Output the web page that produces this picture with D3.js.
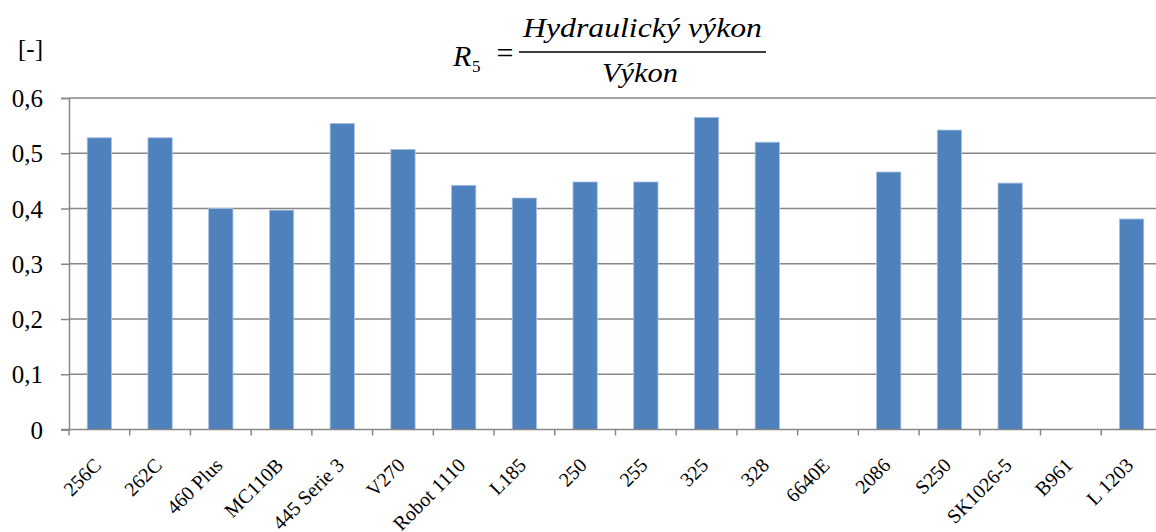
<!DOCTYPE html>
<html>
<head>
<meta charset="utf-8">
<script src="https://cdn.jsdelivr.net/npm/d3@7"></script>
<style>
  body { margin: 0; background: #fff; }
  #my_dataviz { width: 1156px; height: 532px; }
</style>
</head>
<body>
<div id="my_dataviz"></div>
<script>
const categories = ["256C", "262C", "460 Plus", "MC110B", "445 Serie 3", "V270", "Robot 1110", "L185",
    "250", "255", "325", "328", "6640E", "2086", "S250", "SK1026-5", "B961", "L 1203"];
const values = [0.528, 0.528, 0.400, 0.397, 0.554, 0.507, 0.442, 0.419,
    0.448, 0.448, 0.565, 0.520, 0, 0.466, 0.542, 0.446, 0, 0.381];
const yTicks = [0, 0.1, 0.2, 0.3, 0.4, 0.5, 0.6];
const yTickLabels = ["0", "0,1", "0,2", "0,3", "0,4", "0,5", "0,6"];

const serif = '"Liberation Serif", "Times New Roman", serif';

function renderGraph() {
    const width = 1156, height = 532;
    const left = 69, top = 98, bottom = 429.5;
    const step = 60.72;

    const svg = d3.select("#my_dataviz")
        .append("svg")
        .attr("width", width)
        .attr("height", height)
        .style("font-family", serif);

    const x = d3.scaleBand()
        .domain(categories)
        .range([left, left + step * categories.length])
        .padding(0);

    const y = d3.scaleLinear()
        .domain([0, 0.6])
        .range([bottom, top]);

    // gridlines
    svg.append("g")
        .selectAll("line")
        .data(yTicks.filter(d => d > 0))
        .enter()
        .append("line")
        .attr("x1", left)
        .attr("x2", width)
        .attr("y1", d => y(d))
        .attr("y2", d => y(d))
        .attr("stroke", "#878787")
        .attr("stroke-width", 1.5);

    // y axis
    const yAxis = svg.append("g")
        .attr("transform", `translate(${left},0)`)
        .call(d3.axisLeft(y)
            .tickValues(yTicks)
            .tickFormat((d, i) => yTickLabels[i])
            .tickSize(8)
            .tickPadding(18));
    yAxis.attr("font-family", null).attr("font-size", null);
    yAxis.select(".domain").attr("stroke", "#878787").attr("stroke-width", 1.5);
    yAxis.selectAll(".tick line").attr("stroke", "#878787").attr("stroke-width", 1.5);
    yAxis.selectAll(".tick text")
        .style("font-family", serif)
        .style("font-size", "25px")
        .attr("fill", "#000")
        .attr("dy", "0.34em");

    // bars
    const barW = x.bandwidth() * 0.4;
    svg.selectAll("mybar")
        .data(values.map((v, i) => ({ cat: categories[i], v: v })).filter(d => d.v > 0))
        .enter()
        .append("rect")
        .attr("x", d => x(d.cat) + (x.bandwidth() - barW) / 2)
        .attr("y", d => y(d.v))
        .attr("width", barW)
        .attr("height", d => y(0) - y(d.v))
        .attr("fill", "#4f81bd")
        .attr("stroke", "#a9c2e0")
        .attr("stroke-width", 0.8);

    // x axis
    const xAxis = svg.append("g")
        .attr("transform", `translate(0,${bottom})`);
    xAxis.append("line")
        .attr("x1", left - 8)
        .attr("x2", width)
        .attr("stroke", "#878787")
        .attr("stroke-width", 1.5);
    xAxis.selectAll("tickmark")
        .data(categories)
        .enter()
        .append("line")
        .attr("x1", d => x(d))
        .attr("x2", d => x(d))
        .attr("y1", 0)
        .attr("y2", 6)
        .attr("stroke", "#878787")
        .attr("stroke-width", 1.5);

    svg.append("g")
        .selectAll("text")
        .data(categories)
        .enter()
        .append("text")
        .attr("text-anchor", "end")
        .style("font-family", serif)
        .style("font-size", "20px")
        .attr("transform", d => `translate(${x(d) + x.bandwidth() / 2 + 3},${bottom + 37})rotate(-45)`)
        .text(d => d);

    // unit label
    svg.append("text")
        .attr("x", 43)
        .attr("y", 57)
        .attr("text-anchor", "end")
        .style("font-size", "25px")
        .text("[-]");

    // title formula
    const title = svg.append("g");
    title.append("text")
        .attr("x", 453)
        .attr("y", 66)
        .style("font-size", "30px")
        .style("font-style", "italic")
        .text("R");
    title.append("text")
        .attr("x", 472)
        .attr("y", 72)
        .style("font-size", "17px")
        .text("5");
    title.append("text")
        .attr("x", 505)
        .attr("y", 63)
        .attr("text-anchor", "middle")
        .style("font-size", "30px")
        .text("=");
    title.append("line")
        .attr("x1", 519)
        .attr("x2", 766)
        .attr("y1", 52)
        .attr("y2", 52)
        .attr("stroke", "#000")
        .attr("stroke-width", 1.3);
    title.append("text")
        .attr("x", 523)
        .attr("y", 37)
        .attr("textLength", 239)
        .attr("lengthAdjust", "spacingAndGlyphs")
        .style("font-size", "28px")
        .style("font-style", "italic")
        .text("Hydraulický výkon");
    title.append("text")
        .attr("x", 602)
        .attr("y", 82)
        .attr("textLength", 76)
        .attr("lengthAdjust", "spacingAndGlyphs")
        .style("font-size", "28px")
        .style("font-style", "italic")
        .text("Výkon");
}

document.addEventListener('DOMContentLoaded', () => {
    renderGraph();
});
</script>
</body>
</html>
